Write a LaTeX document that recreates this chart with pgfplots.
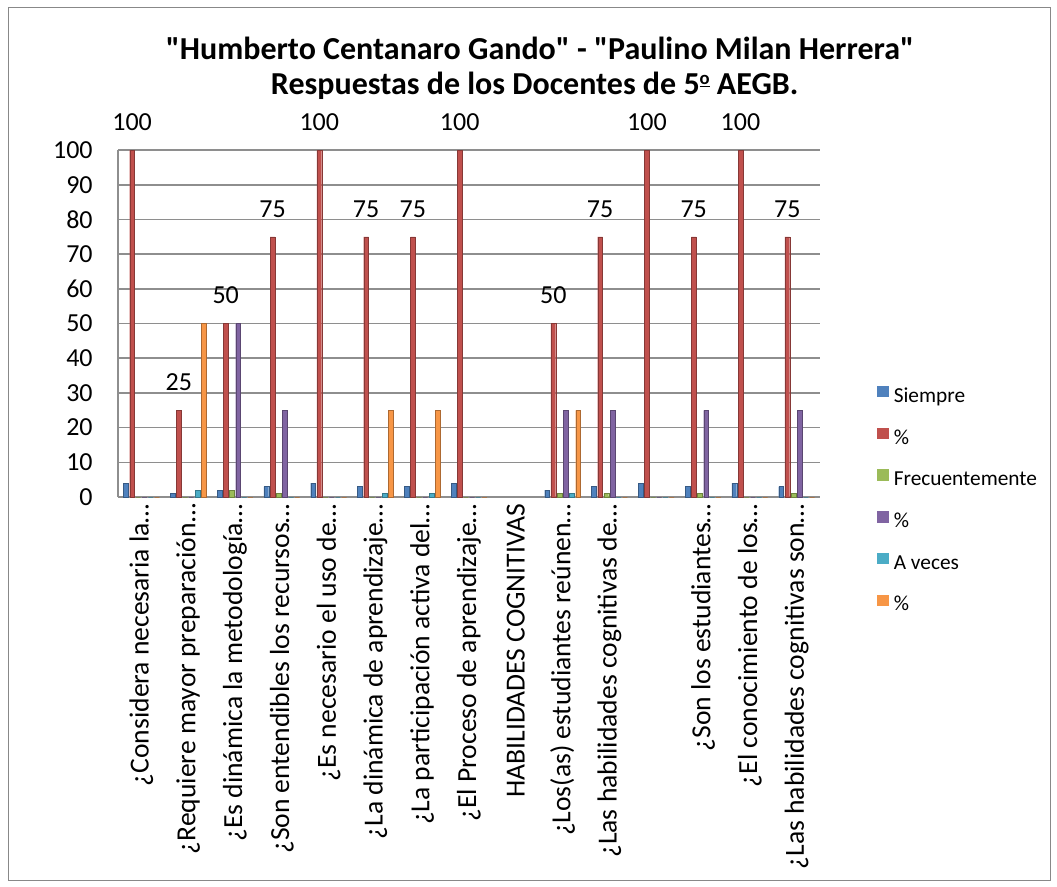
\documentclass[border=0pt]{standalone}
\usepackage{fontspec}
\setmainfont{Carlito}
\newfontfamily\qfont{Carlito}
\usepackage{pgfplots}
\usepackage{pgfplotstable}
\pgfplotsset{compat=1.18}
\definecolor{cS}{HTML}{4F81BD}
\definecolor{cP}{HTML}{C0504D}
\definecolor{cF}{HTML}{9BBB59}
\definecolor{cQ}{HTML}{8064A2}
\definecolor{cA}{HTML}{4BACC6}
\definecolor{cR}{HTML}{F79646}
\definecolor{gridgray}{HTML}{8E8E8E}
\definecolor{bordergray}{HTML}{888888}

\pgfplotstableread{
x s p1 f p2 a p3
0 4 100 0 0 0 0
1 1 25 0 0 2 50
2 2 50 2 50 0 0
3 3 75 1 25 0 0
4 4 100 0 0 0 0
5 3 75 0 0 1 25
6 3 75 0 0 1 25
7 4 100 0 0 0 0
8 nan nan nan nan nan nan
9 2 50 1 25 1 25
10 3 75 1 25 0 0
11 4 100 0 0 0 0
12 3 75 1 25 0 0
13 4 100 0 0 0 0
14 3 75 1 25 0 0
}\datatable

\newcommand{\ordo}{\raisebox{0.33em}{\fontsize{14}{14}\selectfont\underline{o}}}
\newcommand{\q}{{\qfont\bfseries "}}

\begin{document}
\begin{tikzpicture}
\useasboundingbox (0,0) rectangle (792.75pt,-665.25pt);
\draw[bordergray, line width=0.75pt] (6pt,-6pt) rectangle (787.5pt,-660pt);
\node[font=\bfseries\fontsize{24}{28}\selectfont] at (405pt,-36pt) {\q Humberto Centanaro Gando\q{} - \q Paulino Milan Herrera\q};
\node[font=\bfseries\fontsize{24}{28}\selectfont] at (401pt,-64.5pt) {Respuestas de los Docentes de 5\ordo{} AEGB.};
\begin{axis}[
  at={(88.5pt,-372.75pt)}, anchor=south west,
  scale only axis, width=526.5pt, height=260.25pt,
  ybar=1.05pt, bar width=3.6pt,
  xmin=-0.5, xmax=14.5, ymin=0, ymax=100,
  ytick={0,10,...,100},
  xtick={0,...,14},
  xticklabels={¿Considera necesaria la…,¿Requiere mayor preparación…,¿Es dinámica la metodología…,¿Son entendibles los recursos…,¿Es necesario el uso de…,¿La dinámica de aprendizaje…,¿La participación activa del…,¿El Proceso de aprendizaje…,HABILIDADES COGNITIVAS,¿Los(as) estudiantes reúnen…,¿Las habilidades cognitivas de…,{},¿Son los estudiantes…,¿El conocimiento de los…,¿Las habilidades cognitivas son…},
  /pgf/number format/assume math mode=true,
  major tick length=0pt,
  ymajorgrids, grid style={draw=gridgray, line width=1.2pt},
  axis x line*=bottom, axis y line*=left,
  axis line style={-, draw=gridgray, line width=1.2pt},
  yticklabel style={font=\fontsize{19.5}{23}\selectfont, anchor=east, xshift=-15.5pt},
  xticklabel style={font=\fontsize{20.7}{24}\selectfont, rotate=90, anchor=east, inner xsep=5pt, inner ysep=0pt},
  legend style={at={(1,-0.01)}, anchor=west, xshift=42.75pt, draw=none, fill=none, inner sep=0pt,
    row sep=16.1pt, font=\fontsize{16}{19}\selectfont,
    nodes={inner sep=0pt, text height=10pt, text depth=3pt}},
  legend cell align=left,
  legend image code/.code={\fill[#1,draw=none] (0pt,0.2pt) rectangle (8.6pt,8.7pt); \path[draw=none,fill=none] (0pt,0pt) -- (12.4pt,0pt);},
]
\addplot[fill=cS, draw=cS!70!black, line width=0.3pt] table[x=x,y=s] {\datatable};
\addplot[fill=cP, draw=cP!70!black, line width=0.3pt,
  nodes near coords,
  every node near coord/.append style={anchor=center, yshift=21pt, font=\fontsize{19.5}{23}\selectfont, text=black}] table[x=x,y=p1] {\datatable};
\addplot[fill=cF, draw=cF!70!black, line width=0.3pt] table[x=x,y=f] {\datatable};
\addplot[fill=cQ, draw=cQ!70!black, line width=0.3pt] table[x=x,y=p2] {\datatable};
\addplot[fill=cA, draw=cA!70!black, line width=0.3pt] table[x=x,y=a] {\datatable};
\addplot[fill=cR, draw=cR!70!black, line width=0.3pt] table[x=x,y=p3] {\datatable};
\legend{Siempre,\%,Frecuentemente,\%,A veces,\%}
\end{axis}
\end{tikzpicture}
\end{document}
